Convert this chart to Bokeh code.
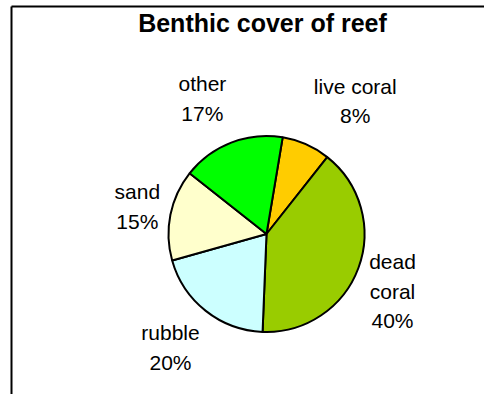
import math
from bokeh.plotting import figure
from bokeh.models import Range1d, ColumnDataSource
from bokeh.core.properties import value
from bokeh.embed import file_html
from bokeh.resources import INLINE

# ---- data ----
categories = ["live coral", "dead coral", "rubble", "sand", "other"]
label_lines = ["live coral", "dead\ncoral", "rubble", "sand", "other"]
percent = [8, 40, 20, 15, 17]
colors = ["#FFCC00", "#99CC00", "#CCFFFF", "#FFFFCC", "#00FF00"]
title_text = "Benthic cover of reef"

# ---- layout (pixel space, y measured downward then flipped) ----
W, H = 484, 394
CX, CY_DOWN, R = 266, 233.5, 98
START_DEG = 9.5            # first slice starts this far clockwise from 12 o'clock
label_dist = [160, 138.5, 148.7, 132, 150]
label_dang = [9.8, 4.2, 1.9, 0.7, -4.2]

def ypix(y_down):
    return H - y_down

p = figure(width=W, height=H, output_backend="svg", toolbar_location=None,
           x_range=Range1d(0, W), y_range=Range1d(0, H),
           min_border=0, outline_line_color=None)
p.axis.visible = False
p.grid.visible = False
p.background_fill_color = "white"
p.border_fill_color = "white"

# frame lines (top and left)
p.segment(x0=[11, 11], y0=[ypix(6), ypix(6)], x1=[W, 11], y1=[ypix(6), 0],
          line_color="black", line_width=2)

total = sum(percent)
starts, ends, mids = [], [], []
acc = START_DEG
for v in percent:
    a0 = acc
    a1 = acc + 360.0 * v / total
    starts.append(math.radians(90 - a0))
    ends.append(math.radians(90 - a1))
    mids.append((a0 + a1) / 2)
    acc = a1

src = ColumnDataSource(dict(start=starts, end=ends, color=colors, cat=categories))
p.wedge(x=CX, y=ypix(CY_DOWN), radius=R, start_angle="start", end_angle="end",
        direction="clock", fill_color="color", line_color="black", line_width=2,
        source=src)

lx, ly, lt = [], [], []
for i, v in enumerate(percent):
    a = math.radians(mids[i] + label_dang[i])
    d = label_dist[i]
    lx.append(CX + d * math.sin(a))
    ly.append(ypix(CY_DOWN) + d * math.cos(a))
    lt.append(f"{label_lines[i]}\n{v}%")

p.text(x=lx, y=ly, text=lt, text_align="center", text_baseline="middle",
       text_font=value("Liberation Sans"), text_font_size="21px",
       text_line_height=1.28, text_color="black")

p.text(x=[262], y=[ypix(22)], text=[title_text], text_align="center",
       text_baseline="middle", text_font=value("Liberation Sans"),
       text_font_size="25px", text_font_style="bold", text_color="black")

open("out.html", "w").write(file_html(p, INLINE))
